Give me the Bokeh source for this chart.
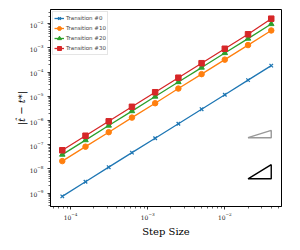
from bokeh.plotting import figure
from bokeh.models import FixedTicker, Range1d
from bokeh.embed import file_html
from bokeh.resources import INLINE

# data
step_size = [7.8125e-5, 1.5625e-4, 3.125e-4, 6.25e-4, 1.25e-3, 2.5e-3, 5e-3, 1e-2, 2e-2, 4e-2]
err_t0 = [7.3e-10, 2.95e-9, 1.18e-8, 4.7e-8, 1.86e-7, 7.4e-7, 2.95e-6, 1.17e-5, 4.7e-5, 1.87e-4]
err_t10 = [2.1e-8, 8.3e-8, 3.3e-7, 1.32e-6, 5.2e-6, 2.1e-5, 8.3e-5, 3.3e-4, 1.32e-3, 5.3e-3]
err_t20 = [3.9e-8, 1.55e-7, 6.2e-7, 2.45e-6, 9.8e-6, 3.9e-5, 1.55e-4, 6.2e-4, 2.45e-3, 9.8e-3]
err_t30 = [5.9e-8, 2.35e-7, 9.3e-7, 3.7e-6, 1.48e-5, 5.9e-5, 2.35e-4, 9.3e-4, 3.7e-3, 1.63e-2]
labels = ["Transition #0", "Transition #10", "Transition #20", "Transition #30"]
colors = ["#1f77b4", "#ff7f0e", "#2ca02c", "#d62728"]
markers = ["x", "circle", "triangle", "square"]

# slope indicator triangles (order 1 grey, order 2 black)
tri_x = [0.02, 0.04, 0.04]
tri1_y = [1.95e-7, 1.95e-7, 3.9e-7]
tri2_y = [3.9e-9, 3.9e-9, 1.5e-8]

x_major = [1e-4, 1e-3, 1e-2]
x_minor = [k * 10.0 ** e for e in (-5, -4, -3, -2) for k in range(2, 10)]
y_major = [10.0 ** e for e in range(-9, -1)]
y_minor = [k * 10.0 ** e for e in range(-10, -1) for k in range(2, 10)]

p = figure(width=284, height=242, x_axis_type="log", y_axis_type="log",
           x_range=Range1d(10 ** -4.26, 10 ** -1.265),
           y_range=Range1d(10 ** -9.555, 10 ** -1.408),
           output_backend="svg", toolbar_location=None,
           min_border_left=50, min_border_right=3, min_border_top=9, min_border_bottom=36)

series = [err_t0, err_t10, err_t20, err_t30]
for ys, lab, col, mk in zip(series, labels, colors, markers):
    p.line(step_size, ys, line_color=col, line_width=1.3, legend_label=lab)
    if mk == "x":
        p.scatter(step_size, ys, marker=mk, size=5, line_color=col, line_width=1.3, legend_label=lab)
    else:
        p.scatter(step_size, ys, marker=mk, size=5.5, fill_color=col, line_color=col, legend_label=lab)

p.patch(tri_x, tri1_y, fill_alpha=0, line_color="#999999", line_width=1.4)
p.patch(tri_x, tri2_y, fill_alpha=0, line_color="black", line_width=1.4)

p.xaxis.ticker = FixedTicker(ticks=x_major, minor_ticks=x_minor)
p.yaxis.ticker = FixedTicker(ticks=y_major, minor_ticks=y_minor)
for ax in (p.xaxis[0], p.yaxis[0]):
    ax.major_tick_in = 0
    ax.major_tick_out = 3
    ax.minor_tick_in = 0
    ax.minor_tick_out = 2
    ax.major_tick_line_color = "black"
    ax.minor_tick_line_color = "black"
    ax.major_tick_line_width = 0.8
    ax.minor_tick_line_width = 0.6
    ax.axis_line_color = "black"
    ax.axis_line_width = 0.8
    ax.major_label_text_font = "DejaVu Serif"
    ax.major_label_text_font_size = "6px"
    ax.major_label_text_color = "#222222"
    ax.axis_label_text_font = "DejaVu Serif"
    ax.axis_label_text_font_size = "10px"
    ax.axis_label_text_color = "black"

p.xaxis.axis_label = "Step Size"
p.xaxis.axis_label_text_font_style = "normal"
p.xaxis.major_label_standoff = 2
p.xaxis.axis_label_standoff = 3
p.yaxis.axis_label = "|t\u0302 \u2212 t*|"
p.yaxis.axis_label_text_font_style = "italic"
p.yaxis.axis_label_text_line_height = 1.0
p.yaxis.major_label_standoff = 4
p.yaxis.axis_label_standoff = 0

p.grid.visible = False
p.outline_line_color = "black"
p.outline_line_width = 1
p.outline_line_alpha = 1

lg = p.legend[0]
lg.location = "top_left"
lg.margin = 2
lg.padding = 1
lg.spacing = -4
lg.glyph_height = 10
lg.glyph_width = 10
lg.label_height = 10
lg.label_width = 10
lg.label_standoff = 2
lg.label_text_font = "DejaVu Sans"
lg.label_text_font_size = "5.5px"
lg.border_line_color = "#cccccc"
lg.border_line_width = 0.8
lg.background_fill_alpha = 0.8

open("out.html", "w").write(file_html(p, INLINE))
